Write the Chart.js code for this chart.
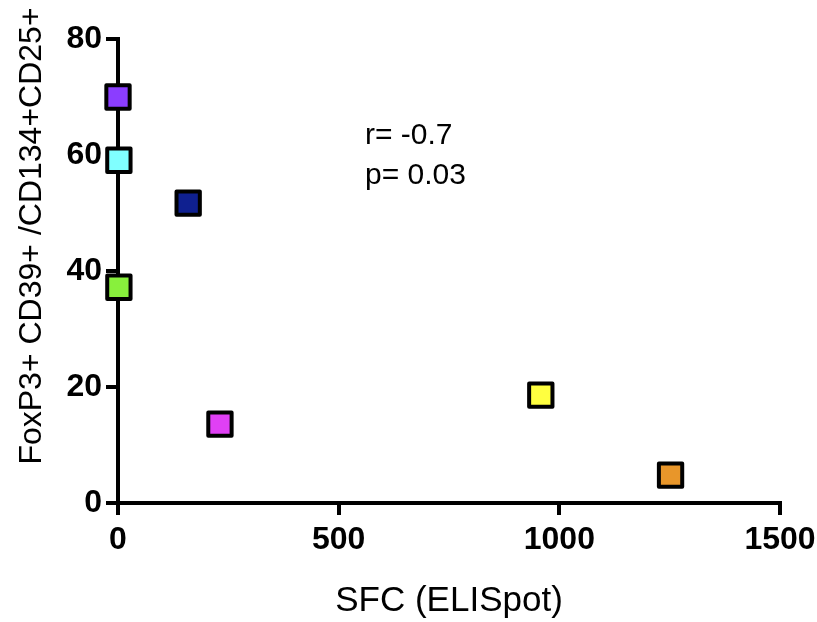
<!DOCTYPE html>
<html lang="en">
<head>
<meta charset="UTF-8">
<title>FoxP3+ vs SFC</title>
<script src="https://cdn.jsdelivr.net/npm/chart.js"></script>
<style>
  html, body { margin: 0; padding: 0; background: #fff; }
  #wrap { width: 817px; height: 622px; position: relative; }
</style>
</head>
<body>
<div id="wrap"><canvas id="scatter" width="817" height="622"></canvas></div>
<script>
  // data
  const sfc = [0, 2, 159, 2, 231, 958, 1252];
  const foxp3 = [70, 59.1, 51.7, 37.2, 13.6, 18.6, 4.8];
  const pointColors = ['#8b3dff', '#80ffff', '#0f2090', '#88f03c', '#e040f5', '#ffff40', '#e8962a'];
  const xTicks = [0, 500, 1000, 1500];
  const yTicks = [0, 20, 40, 60, 80];
  const statLines = ['r= -0.7', 'p= 0.03'];

  const points = sfc.map((v, i) => ({ x: v, y: foxp3[i] }));

  const extras = {
    id: 'extras',
    beforeDatasetsDraw(chart) {
      chart.ctx.lineJoin = 'round';
    },
    afterDraw(chart) {
      const ctx = chart.ctx;
      ctx.save();
      ctx.fillStyle = '#000';
      ctx.font = '30px "Liberation Sans", Arial, sans-serif';
      ctx.textBaseline = 'alphabetic';
      ctx.textAlign = 'left';
      ctx.fillText(statLines[0], 365, 144);
      ctx.fillText(statLines[1], 365, 184);
      // y axis title
      ctx.translate(41, 236);
      ctx.rotate(-Math.PI / 2);
      ctx.textAlign = 'center';
      ctx.font = '32px "Liberation Sans", Arial, sans-serif';
      ctx.fillText('FoxP3+ CD39+ /CD134+CD25+', 0, 0);
      ctx.restore();
    }
  };

  const tickFont = { family: '"Liberation Sans", Arial, sans-serif', size: 32, weight: 'bold' };

  new Chart(document.getElementById('scatter'), {
    type: 'scatter',
    data: {
      datasets: [{
        data: points,
        backgroundColor: pointColors,
        borderColor: '#000',
        borderWidth: 4,
        pointStyle: 'rect',
        pointRadius: 16.5,
        pointHoverRadius: 16.5,
        clip: false
      }]
    },
    options: {
      responsive: false,
      animation: false,
      devicePixelRatio: 1,
      layout: { padding: { top: 39, right: 37, left: 0, bottom: 0 } },
      plugins: { legend: { display: false }, tooltip: { enabled: false } },
      scales: {
        x: {
          type: 'linear',
          min: 0, max: 1500,
          afterBuildTicks(s) { s.ticks = xTicks.map(v => ({ value: v })); },
          afterFit(s) { s.height = 119; s.paddingLeft = 0; s.paddingRight = 0; },
          border: { color: '#000', width: 4 },
          grid: { drawOnChartArea: false, color: '#000', lineWidth: 4, tickLength: 12 },
          ticks: { color: '#000', font: tickFont, padding: 6, callback: v => String(v) },
          title: {
            display: true, text: 'SFC (ELISpot)', color: '#000',
            font: { family: '"Liberation Sans", Arial, sans-serif', size: 35 },
            padding: { top: 8, bottom: 0 }
          }
        },
        y: {
          type: 'linear',
          min: 0, max: 80,
          afterBuildTicks(s) { s.ticks = yTicks.map(v => ({ value: v })); },
          afterFit(s) { s.width = 118; s.paddingTop = 0; s.paddingBottom = 0; },
          border: { color: '#000', width: 4 },
          grid: { drawOnChartArea: false, color: '#000', lineWidth: 4, tickLength: 12 },
          ticks: { color: '#000', font: tickFont, padding: 4, callback: v => String(v) }
        }
      }
    },
    plugins: [extras]
  });
</script>
</body>
</html>
